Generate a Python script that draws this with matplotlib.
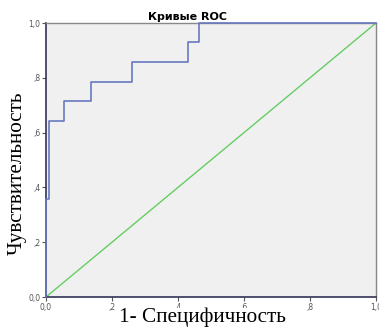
import matplotlib
matplotlib.use("Agg")
import matplotlib.pyplot as plt

# ROC curve (step points)
fpr = [0.0, 0.0, 0.01, 0.01, 0.055, 0.055, 0.135, 0.135, 0.26, 0.26, 0.43, 0.43, 0.464, 0.464, 1.0]
tpr = [0.0, 0.357, 0.357, 0.643, 0.643, 0.714, 0.714, 0.786, 0.786, 0.857, 0.857, 0.929, 0.929, 1.0, 1.0]
ref_line = [0.0, 1.0]
ticks = [0.0, 0.2, 0.4, 0.6, 0.8, 1.0]
tick_labels = ['0,0', ',2', ',4', ',6', ',8', '1,0']

fig = plt.figure(figsize=(3.79, 3.29), dpi=100)
ax = fig.add_axes([46/379, 1-297/329, 330/379, 274/329])
ax.set_facecolor('#f0f0f0')

ax.plot(ref_line, ref_line, color='#66cc66', lw=1.0, zorder=2)
ax.plot(fpr, tpr, color='#6878c0', lw=1.2, zorder=3, clip_on=False)

ax.set_xlim(0, 1)
ax.set_ylim(0, 1)
ax.set_xticks(ticks)
ax.set_yticks(ticks)
ax.set_xticklabels(tick_labels)
ax.set_yticklabels(tick_labels)
ax.tick_params(labelsize=5.5, labelcolor='#555555', length=3, width=0.8, color='#555555', pad=1)

for s in ['left', 'bottom']:
    ax.spines[s].set_color('#333355')
    ax.spines[s].set_linewidth(1.2)
for s in ['top', 'right']:
    ax.spines[s].set_color('#888888')
    ax.spines[s].set_linewidth(1.0)

ax.set_title('Кривые ROC', fontsize=8, fontweight='bold', family='DejaVu Sans', pad=2, x=0.43)

ax.set_xlabel('1- Специфичность', family='Liberation Serif', fontsize=15.3, labelpad=-9,
              bbox=dict(facecolor='white', edgecolor='none', pad=0))
ax.xaxis.set_label_coords(0.475, -0.04, transform=ax.transAxes)
ax.xaxis.label.set_va('top')
ax.set_ylabel('Чувствительность', family='Liberation Serif', fontsize=15.3, labelpad=1)
ax.yaxis.label.set_y(0.45)

fig.savefig('out.png', dpi=100)
